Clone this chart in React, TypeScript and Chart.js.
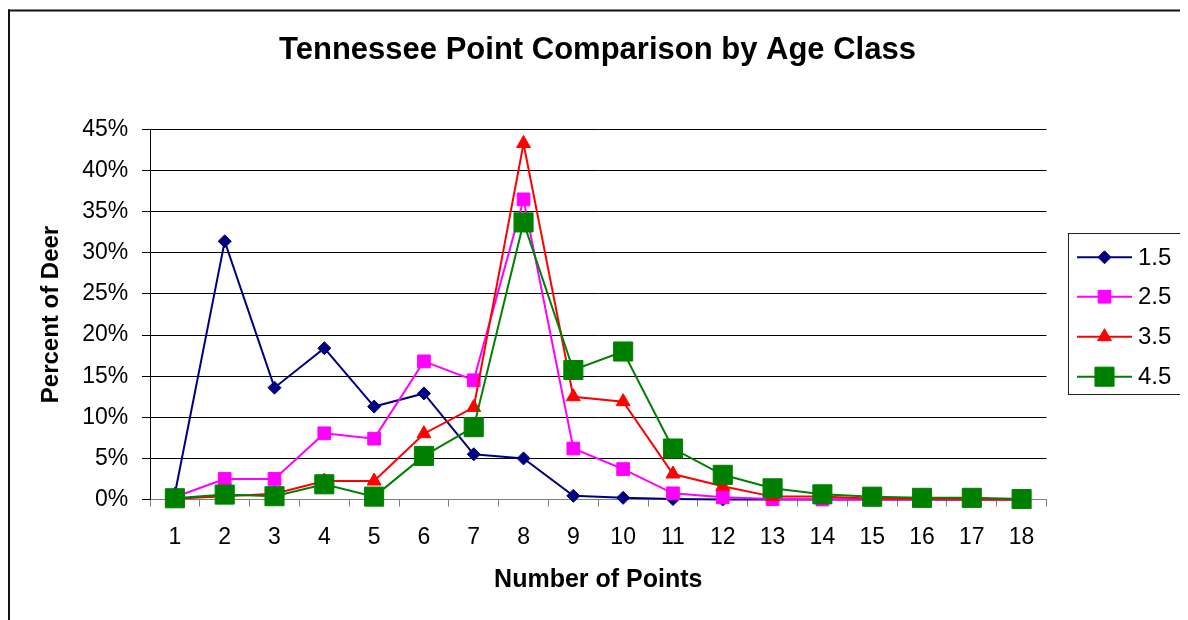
import React, { useEffect, useRef } from "react";
import { Chart, registerables } from "chart.js";

Chart.register(...registerables);

const titleText = "Tennessee Point Comparison by Age Class";
const xTitle = "Number of Points";
const yTitle = "Percent of Deer";
const categories = ["1", "2", "3", "4", "5", "6", "7", "8", "9", "10", "11", "12", "13", "14", "15", "16", "17", "18"];
const seriesNames = ["1.5", "2.5", "3.5", "4.5"];
const age15 = [0.7, 31.4, 13.6, 18.4, 11.3, 12.9, 5.5, 5.0, 0.45, 0.2, 0.05, 0, 0, 0, 0, 0, 0, 0];
const age25 = [0.3, 2.5, 2.5, 8.05, 7.4, 16.8, 14.5, 36.5, 6.2, 3.7, 0.75, 0.27, 0.05, 0, 0, 0, 0, 0];
const age35 = [0.1, 0.4, 0.7, 2.25, 2.25, 8.0, 11.2, 43.3, 12.5, 11.9, 3.1, 1.6, 0.35, 0.35, 0.1, 0.05, 0, 0];
const age45 = [0.15, 0.6, 0.4, 1.85, 0.35, 5.3, 8.8, 33.7, 15.75, 18.0, 6.2, 3.0, 1.36, 0.63, 0.34, 0.2, 0.2, 0.05];
const yTickMax = 45;
const yTickStep = 5;

const FONT = "'Liberation Sans', Arial, sans-serif";

function drawMarker(ctx: CanvasRenderingContext2D, style: string, x: number, y: number, r: number, color: string) {
  ctx.save();
  ctx.fillStyle = color;
  ctx.strokeStyle = color;
  ctx.lineWidth = 1;
  ctx.beginPath();
  if (style === "rectRot") {
    ctx.moveTo(x, y - r);
    ctx.lineTo(x + r, y);
    ctx.lineTo(x, y + r);
    ctx.lineTo(x - r, y);
    ctx.closePath();
  } else if (style === "rect") {
    const s = r * Math.SQRT1_2;
    ctx.rect(x - s, y - s, 2 * s, 2 * s);
  } else if (style === "triangle") {
    ctx.moveTo(x, y - r);
    ctx.lineTo(x + r * Math.sin(Math.PI / 3), y + r / 2);
    ctx.lineTo(x - r * Math.sin(Math.PI / 3), y + r / 2);
    ctx.closePath();
  }
  ctx.fill();
  ctx.stroke();
  ctx.restore();
}

const framePlugin = {
  id: "frame",
  beforeDraw(chart: any) {
    const ctx = chart.ctx as CanvasRenderingContext2D;
    ctx.save();
    ctx.fillStyle = "#ffffff";
    ctx.fillRect(0, 0, chart.width, chart.height);
    ctx.fillStyle = "#111111";
    ctx.fillRect(0, 1.5, chart.width, 2);
    ctx.fillRect(0, 1.5, 2, chart.height);
    ctx.fillStyle = "#d0d0d0";
    ctx.fillRect(chart.width - 1.5, 1.5, 1, chart.height);
    ctx.restore();
  },
  afterDraw(chart: any) {
    const ctx = chart.ctx as CanvasRenderingContext2D;
    ctx.save();
    ctx.fillStyle = "#000000";
    ctx.font = `bold 31px ${FONT}`;
    ctx.textAlign = "center";
    ctx.textBaseline = "middle";
    ctx.fillText(titleText, 589.5, 42);
    ctx.restore();
  },
};

const legendPlugin = {
  id: "customLegend",
  afterDraw(chart: any) {
    const ctx = chart.ctx as CanvasRenderingContext2D;
    const boxX = 1060.5, boxY = 225.5, boxW = 112, boxH = 161;
    ctx.save();
    ctx.strokeStyle = "#222222";
    ctx.lineWidth = 1;
    ctx.strokeRect(boxX, boxY, boxW, boxH);
    const rowY = [249.3, 288.7, 328.7, 368.7];
    chart.data.datasets.forEach((ds: any, i: number) => {
      const y = rowY[i];
      ctx.strokeStyle = ds.borderColor;
      ctx.lineWidth = 2;
      ctx.beginPath();
      ctx.moveTo(1069, y);
      ctx.lineTo(1124, y);
      ctx.stroke();
      drawMarker(ctx, ds.pointStyle, 1096.5, y, ds.pointRadius, ds.pointBackgroundColor);
      ctx.fillStyle = "#000000";
      ctx.font = `24px ${FONT}`;
      ctx.textBaseline = "middle";
      ctx.textAlign = "left";
      ctx.fillText(ds.label, 1130, y + 1);
    });
    ctx.restore();
  },
};

export default function App() {
  const canvasRef = useRef<HTMLCanvasElement | null>(null);

  useEffect(() => {
    if (!canvasRef.current) return;
    const mk = (label: string, data: number[], color: string, style: string, radius: number, order: number) => ({
      label,
      data,
      borderColor: color,
      backgroundColor: color,
      pointBackgroundColor: color,
      pointBorderColor: color,
      pointBorderWidth: 1,
      pointStyle: style,
      pointRadius: radius,
      borderWidth: 2,
      tension: 0,
      clip: false as any,
      order,
    });
    const chart = new Chart(canvasRef.current, {
      type: "line",
      data: {
        labels: categories,
        datasets: [
          mk(seriesNames[0], age15, "#000080", "rectRot", 6.5, 4),
          mk(seriesNames[1], age25, "#FF00FF", "rect", 9, 3),
          mk(seriesNames[2], age35, "#FF0000", "triangle", 8, 2),
          mk(seriesNames[3], age45, "#008000", "rect", 13.5, 1),
        ],
      },
      options: {
        responsive: false,
        animation: false,
        devicePixelRatio: 1,
        layout: { padding: { left: 0, right: 141.5, top: 121.5, bottom: 0 } },
        plugins: {
          legend: { display: false },
          tooltip: { enabled: false },
          title: { display: false },
        },
        scales: {
          x: {
            type: "category",
            offset: true,
            afterFit: (scale: any) => {
              scale.height = 120.5;
            },
            grid: {
              display: true,
              drawOnChartArea: false,
              drawTicks: true,
              tickLength: 7,
              offset: true,
              color: "#808080",
              lineWidth: 1,
            },
            border: { display: true, color: "#808080", width: 1 },
            ticks: {
              color: "#000000",
              font: { family: FONT, size: 23 },
              padding: 17.5,
              maxRotation: 0,
              autoSkip: false,
            },
            title: {
              display: true,
              text: xTitle,
              color: "#000000",
              font: { family: FONT, size: 25, weight: "bold", lineHeight: 1.2 },
              padding: { top: 0, bottom: 25 },
            },
          },
          y: {
            min: 0,
            max: yTickMax,
            afterFit: (scale: any) => {
              scale.width = 142;
            },
            grid: {
              display: true,
              drawOnChartArea: true,
              drawTicks: true,
              tickLength: 8,
              color: "#000000",
              lineWidth: 1,
            },
            border: { display: true, color: "#000000", width: 1 },
            ticks: {
              stepSize: yTickStep,
              color: "#000000",
              font: { family: FONT, size: 23 },
              padding: 13.7,
              callback: (v: any) => `${v}%`,
            },
            title: {
              display: true,
              text: yTitle,
              color: "#000000",
              font: { family: FONT, size: 24, weight: "bold", lineHeight: 1.2 },
              padding: { top: 29.3, bottom: 0 },
            },
          },
        },
      },
      plugins: [framePlugin, legendPlugin],
    } as any);
    return () => chart.destroy();
  }, []);

  return (
    <canvas
      ref={canvasRef}
      width={1180}
      height={612}
      style={{ display: "block", width: "1180px", height: "612px" }}
    />
  );
}
